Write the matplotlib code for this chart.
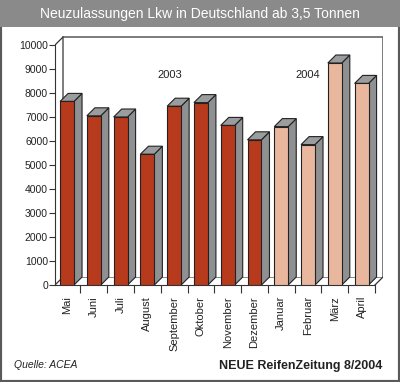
import numpy as np
import matplotlib
matplotlib.use('Agg')
import matplotlib.pyplot as plt
from matplotlib.patches import Polygon, Rectangle

plt.rcParams['font.family'] = ['Liberation Sans', 'DejaVu Sans']

# data
months = ['Mai', 'Juni', 'Juli', 'August', 'September', 'Oktober', 'November',
          'Dezember', 'Januar', 'Februar', 'März', 'April']
values = [7650, 7050, 7000, 5450, 7450, 7600, 6650, 6050, 6600, 5850, 9250, 8400]
years = ['2003', '2003', '2003', '2003', '2003', '2003', '2003', '2003',
         '2004', '2004', '2004', '2004']
yticks = [0, 1000, 2000, 3000, 4000, 5000, 6000, 7000, 8000, 9000, 10000]

col = {'2003': '#b83a1c', '2004': '#e9b79d'}
side = '#8e9092'
top = '#9a9c9e'
dx, dy = 0.3, 333   # fake 3d depth (data units)
w = 0.26

fig = plt.figure(figsize=(4.0, 3.82), dpi=100)
W, H = 400, 382

# outer frame + title bar
fig.patches.append(Rectangle((0, 0), 1, 1, transform=fig.transFigure, fill=False,
                             edgecolor='#5a5a5a', lw=3))
fig.patches.append(Rectangle((0, 1 - 27 / H), 1, 27 / H, transform=fig.transFigure,
                             facecolor='#8a8a8a', edgecolor='none'))
fig.text(0.5, 1 - 14 / H, 'Neuzulassungen Lkw in Deutschland ab 3,5 Tonnen',
         color='white', ha='center', va='center', fontsize=10)

ax = fig.add_axes([55 / W, (H - 285) / H, (383 - 55) / W, (285 - 36) / H])
ax.set_xlim(-0.45, 11.5 + dx)
ax.set_ylim(0, 10375)
for s in ['top', 'right']:
    ax.spines[s].set_visible(False)
ax.spines['left'].set_bounds(0, 10000)
ax.spines['bottom'].set_bounds(-0.45, 11.5)
ax.spines['left'].set_color('#333333')
ax.spines['bottom'].set_color('#333333')

# back wall and floor
x0, x1 = -0.45, 11.5
ax.add_patch(Polygon([(x0 + dx, dy), (x0 + dx, 10000 + dy), (x1 + dx, 10000 + dy),
                      (x1 + dx, dy)], closed=False, fill=False, edgecolor='#666666',
                     lw=1.2, zorder=1))
ax.plot([x0 + dx, x1 + dx], [dy, dy], color='#777777', lw=0.6, zorder=1)
ax.plot([x0, x0 + dx], [10000, 10000 + dy], color='#333333', lw=0.9, zorder=1)
ax.plot([x0, x0 + dx], [0, dy], color='#333333', lw=0.9, zorder=1)
ax.plot([x1, x1 + dx], [0, dy], color='#333333', lw=0.9, zorder=1)

for i, (v, yr) in enumerate(zip(values, years)):
    l, r = i - w, i + w
    ax.add_patch(Polygon([(r, 0), (r + dx, dy), (r + dx, v + dy), (r, v)],
                         facecolor=side, edgecolor='#222222', lw=0.8, zorder=3))
    ax.add_patch(Polygon([(l, v), (l + dx, v + dy), (r + dx, v + dy), (r, v)],
                         facecolor=top, edgecolor='#222222', lw=0.8, zorder=3))
    ax.bar(i, v, width=2 * w, color=col[yr], edgecolor='#222222', lw=0.8, zorder=4)

ax.text(3.85, 8750, '2003', ha='center', va='center', fontsize=8, color='#222222')
ax.text(9.0, 8750, '2004', ha='center', va='center', fontsize=8, color='#222222')

ax.set_yticks(yticks)
ax.set_yticklabels([str(t) for t in yticks], fontsize=7.5, color='#222222')
ax.tick_params(axis='y', length=4, width=0.8, pad=1, color='#333333')
ax.set_xticks(range(len(months)))
ax.set_xticklabels(months, rotation=90, fontsize=8, color='#222222')
ax.tick_params(axis='x', which='major', length=0, pad=8)
ax.set_xticks(np.arange(len(months)) + 0.5, minor=True)
ax.tick_params(axis='x', which='minor', length=6, width=0.8, color='#333333')

fig.text(14 / W, 1 - 365 / H, 'Quelle: ACEA', style='italic', fontsize=7.5,
         ha='left', va='center', color='#222222')
fig.text(382 / W, 1 - 366 / H, 'NEUE ReifenZeitung 8/2004', fontweight='bold',
         fontsize=9, ha='right', va='center', color='#222222')

fig.savefig('out.png', dpi=100)
